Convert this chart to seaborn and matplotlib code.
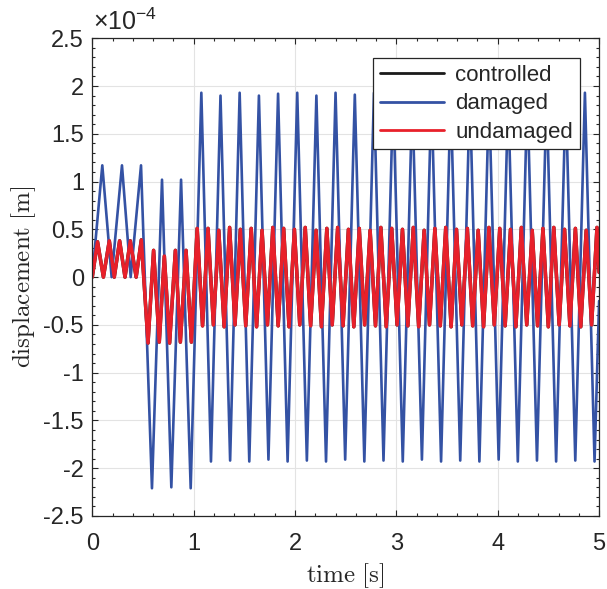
import seaborn as sb
import matplotlib
matplotlib.use("Agg")
import matplotlib.pyplot as plt
import pandas as pd
from matplotlib.ticker import MultipleLocator, FuncFormatter

# displacement values are in units of 1e-4 m, time in s

# damaged structure (blue)
dam_t_early = [0.0, 0.099, 0.191, 0.293, 0.379, 0.481, 0.589, 0.688, 0.780, 0.876, 0.971]
dam_v_early = [0.0, 1.17, 0.0, 1.17, 0.0, 1.17, -2.21, 1.02, -2.20, 1.02, -2.21]
dam_peak_t = [1.076, 1.265, 1.454, 1.644, 1.833, 2.022, 2.211, 2.400, 2.590, 2.779, 2.968,
              3.157, 3.346, 3.536, 3.725, 3.914, 4.103, 4.292, 4.482, 4.671, 4.860]
dam_peak_v = [1.93, 1.90, 1.93, 1.90, 1.92, 1.93, 1.90, 1.93, 1.91, 1.93, 1.92,
              1.90, 1.93, 1.91, 1.93, 1.92, 1.90, 1.93, 1.91, 1.92, 1.93]
dam_trough_t = [1.171, 1.360, 1.549, 1.738, 1.927, 2.117, 2.306, 2.495, 2.684, 2.873, 3.063,
                3.252, 3.441, 3.630, 3.819, 4.009, 4.198, 4.387, 4.576, 4.765, 4.955]
dam_trough_v = [-1.93, -1.92, -1.93, -1.91, -1.93, -1.92, -1.93, -1.91, -1.93, -1.92, -1.93,
                -1.91, -1.93, -1.92, -1.93, -1.91, -1.93, -1.92, -1.93, -1.92, -1.93]
dam_t_end = [5.0]
dam_v_end = [-0.25]

# undamaged structure (red); the controlled one lies under it
und_t_early = [0.0, 0.052, 0.110, 0.168, 0.217, 0.270, 0.323, 0.375, 0.433, 0.484,
               0.550, 0.605, 0.661, 0.711, 0.763, 0.820, 0.869, 0.925, 0.978]
und_v_early = [0.0, 0.37, 0.0, 0.38, 0.0, 0.38, 0.0, 0.38, 0.0, 0.39,
               -0.69, 0.28, -0.68, 0.22, -0.69, 0.28, -0.68, 0.28, -0.68]
und_peak_t = [1.035, 1.142, 1.248, 1.355, 1.461, 1.568, 1.675, 1.781, 1.888, 1.994,
              2.101, 2.208, 2.314, 2.421, 2.527, 2.634, 2.741, 2.847, 2.954, 3.060,
              3.167, 3.274, 3.380, 3.487, 3.593, 3.700, 3.807, 3.913, 4.020, 4.126,
              4.233, 4.340, 4.446, 4.553, 4.659, 4.766, 4.873, 4.979]
und_peak_v = [0.51, 0.51, 0.49, 0.52, 0.50, 0.51, 0.49, 0.52, 0.51, 0.50,
              0.52, 0.49, 0.51, 0.52, 0.50, 0.51, 0.49, 0.52, 0.51, 0.50,
              0.52, 0.49, 0.51, 0.52, 0.50, 0.51, 0.49, 0.52, 0.51, 0.50,
              0.52, 0.49, 0.51, 0.52, 0.50, 0.51, 0.49, 0.52]
und_trough_t = [1.088, 1.195, 1.301, 1.408, 1.514, 1.621, 1.728, 1.834, 1.941, 2.047,
                2.154, 2.261, 2.367, 2.474, 2.580, 2.687, 2.794, 2.900, 3.007, 3.113,
                3.220, 3.327, 3.433, 3.540, 3.646, 3.753, 3.860, 3.966, 4.073, 4.179,
                4.286, 4.393, 4.499, 4.606, 4.712, 4.819, 4.926]
und_trough_v = [-0.51, -0.50, -0.52, -0.50, -0.51, -0.52, -0.50, -0.51, -0.52, -0.50,
                -0.51, -0.52, -0.50, -0.51, -0.52, -0.50, -0.51, -0.52, -0.50, -0.51,
                -0.52, -0.50, -0.51, -0.52, -0.50, -0.51, -0.52, -0.50, -0.51, -0.52,
                -0.50, -0.51, -0.52, -0.50, -0.51, -0.52, -0.50]
und_t_end = [5.0]
und_v_end = [0.05]


def serie(t_lists, v_lists):
    t = sum(t_lists, [])
    v = sum(v_lists, [])
    df = pd.DataFrame({"t": t, "v": v})
    return df.sort_values("t").reset_index(drop=True)


df_dam = serie([dam_t_early, dam_peak_t, dam_trough_t, dam_t_end],
               [dam_v_early, dam_peak_v, dam_trough_v, dam_v_end])
df_und = serie([und_t_early, und_peak_t, und_trough_t, und_t_end],
               [und_v_early, und_peak_v, und_trough_v, und_v_end])
df_ctrl = df_und.copy()

sb.set_style("ticks")
plt.rcParams["font.family"] = ["Liberation Sans", "DejaVu Sans"]
plt.rcParams["axes.unicode_minus"] = False
plt.rcParams["mathtext.fontset"] = "custom"
plt.rcParams["mathtext.rm"] = "Liberation Sans"
plt.rcParams["mathtext.it"] = "Liberation Sans:italic"

fig = plt.figure(figsize=(6.07, 5.89), dpi=100)
ax = fig.add_axes([0.152, 0.124, 0.835, 0.811])

sb.lineplot(data=df_ctrl, x="t", y="v", color="#1a1a1a", linewidth=2.5,
            sort=False, estimator=None, label="controlled", ax=ax)
sb.lineplot(data=df_dam, x="t", y="v", color="#3452a4", linewidth=1.9,
            sort=False, estimator=None, label="damaged", ax=ax)
sb.lineplot(data=df_und, x="t", y="v", color="#e8202a", linewidth=2.5,
            sort=False, estimator=None, label="undamaged", ax=ax)

ax.set_xlim(0, 5)
ax.set_ylim(-2.5, 2.5)
ax.xaxis.set_major_locator(MultipleLocator(1))
ax.xaxis.set_minor_locator(MultipleLocator(0.2))
ax.yaxis.set_major_locator(MultipleLocator(0.5))
ax.yaxis.set_minor_locator(MultipleLocator(0.1))
ax.xaxis.set_major_formatter(FuncFormatter(lambda x, p: f"{x:g}"))
ax.yaxis.set_major_formatter(FuncFormatter(lambda y, p: f"{y:g}"))
ax.tick_params(which="both", direction="in", top=True, right=True,
               labelsize=17, colors="#262626", width=0.8)
ax.tick_params(which="major", length=4.5)
ax.tick_params(axis="x", which="major", pad=12)
ax.tick_params(axis="y", which="major", pad=6)
ax.tick_params(which="minor", length=2.5)
ax.grid(True, which="major", color="#e3e3e3", linewidth=0.8)
for s in ax.spines.values():
    s.set_color("#262626")
    s.set_linewidth(0.9)

ax.set_xlabel(r"$\mathrm{time\ [s]}$", fontsize=18, math_fontfamily="cm", labelpad=5)
ax.set_ylabel(r"$\mathrm{displacement\ [m]}$", fontsize=18, math_fontfamily="cm", labelpad=4)
ax.text(0.002, 1.006, r"$\times10^{-4}$", transform=ax.transAxes, fontsize=18,
        color="#262626", ha="left", va="bottom")

leg = ax.legend(loc="upper right", bbox_to_anchor=(0.962, 0.958), fontsize=16,
                handlelength=2.9, labelspacing=0.33, borderpad=0.3,
                handletextpad=0.5, fancybox=False, framealpha=1, borderaxespad=0)
leg.get_frame().set_edgecolor("#262626")
leg.get_frame().set_linewidth(0.9)
for h in leg.get_lines():
    h.set_linewidth(2.0)

fig.savefig("out.png", dpi=100)
